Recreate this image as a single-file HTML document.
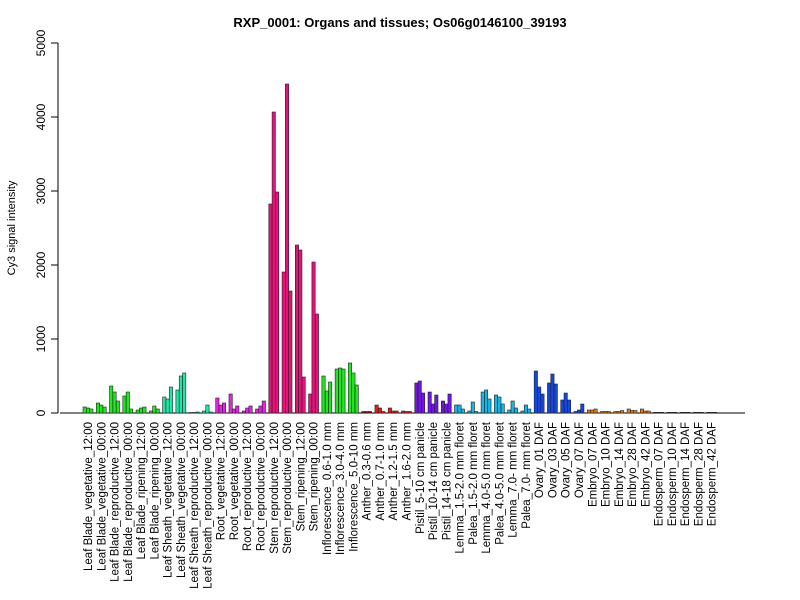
<!DOCTYPE html>
<html><head><meta charset="utf-8"><style>body{margin:0;background:#fff}svg{display:block;font-family:"Liberation Sans",Arial,sans-serif}</style></head>
<body>
<svg width="800" height="600" xmlns="http://www.w3.org/2000/svg">
<rect width="800" height="600" fill="#fff"/>
<text x="400" y="27" text-anchor="middle" font-size="13" font-weight="bold">RXP_0001: Organs and tissues; Os06g0146100_39193</text>
<line x1="58" y1="43" x2="58" y2="413" stroke="#000"/>
<g stroke="#000"><line x1="51" y1="413" x2="58" y2="413"/><line x1="51" y1="339" x2="58" y2="339"/><line x1="51" y1="265" x2="58" y2="265"/><line x1="51" y1="191" x2="58" y2="191"/><line x1="51" y1="117" x2="58" y2="117"/><line x1="51" y1="43" x2="58" y2="43"/></g>
<g font-size="12" text-anchor="middle">
<text transform="translate(45,413) rotate(-90)">0</text>
<text transform="translate(45,339) rotate(-90)">1000</text>
<text transform="translate(45,265) rotate(-90)">2000</text>
<text transform="translate(45,191) rotate(-90)">3000</text>
<text transform="translate(45,117) rotate(-90)">4000</text>
<text transform="translate(45,43) rotate(-90)">5000</text>
<text transform="translate(15,228) rotate(-90)" font-size="11">Cy3 signal intensity</text>
</g>
<line x1="60" y1="413" x2="745" y2="413" stroke="#000"/>
<g stroke="#222" stroke-width="0.6">
<g fill="#22e622">
<g transform="translate(83,0)"><rect x="0" y="407" width="3.32" height="6"/><rect x="3.32" y="408" width="3.32" height="5"/><rect x="6.64" y="409" width="3.32" height="4"/></g>
<g transform="translate(96.27,0)"><rect x="0" y="403" width="3.32" height="10"/><rect x="3.32" y="405" width="3.32" height="8"/><rect x="6.64" y="407" width="3.32" height="6"/></g>
<g transform="translate(109.54,0)"><rect x="0" y="386" width="3.32" height="27"/><rect x="3.32" y="392" width="3.32" height="21"/><rect x="6.64" y="401" width="3.32" height="12"/></g>
<g transform="translate(122.81,0)"><rect x="0" y="396" width="3.32" height="17"/><rect x="3.32" y="392" width="3.32" height="21"/><rect x="6.64" y="409" width="3.32" height="4"/></g>
<g transform="translate(136.08,0)"><rect x="0" y="410" width="3.32" height="3"/><rect x="3.32" y="408" width="3.32" height="5"/><rect x="6.64" y="407" width="3.32" height="6"/></g>
<g transform="translate(149.35,0)"><rect x="0" y="411" width="3.32" height="2"/><rect x="3.32" y="406" width="3.32" height="7"/><rect x="6.64" y="409" width="3.32" height="4"/></g>
</g>
<g fill="#22e6a8">
<g transform="translate(162.62,0)"><rect x="0" y="397" width="3.32" height="16"/><rect x="3.32" y="399" width="3.32" height="14"/><rect x="6.64" y="387" width="3.32" height="26"/></g>
<g transform="translate(175.89,0)"><rect x="0" y="390" width="3.32" height="23"/><rect x="3.32" y="376" width="3.32" height="37"/><rect x="6.64" y="373" width="3.32" height="40"/></g>
<g transform="translate(189.16,0)"><rect x="0" y="412.5" width="3.32" height="0.5"/><rect x="3.32" y="412.5" width="3.32" height="0.5"/><rect x="6.64" y="412" width="3.32" height="1"/></g>
<g transform="translate(202.43,0)"><rect x="0" y="411" width="3.32" height="2"/><rect x="3.32" y="405" width="3.32" height="8"/><rect x="6.64" y="412" width="3.32" height="1"/></g>
</g>
<g fill="#e622e6">
<g transform="translate(215.7,0)"><rect x="0" y="398" width="3.32" height="15"/><rect x="3.32" y="405" width="3.32" height="8"/><rect x="6.64" y="403" width="3.32" height="10"/></g>
<g transform="translate(228.97,0)"><rect x="0" y="394" width="3.32" height="19"/><rect x="3.32" y="409" width="3.32" height="4"/><rect x="6.64" y="406" width="3.32" height="7"/></g>
<g transform="translate(242.24,0)"><rect x="0" y="411" width="3.32" height="2"/><rect x="3.32" y="408" width="3.32" height="5"/><rect x="6.64" y="406" width="3.32" height="7"/></g>
<g transform="translate(255.51,0)"><rect x="0" y="409" width="3.32" height="4"/><rect x="3.32" y="406" width="3.32" height="7"/><rect x="6.64" y="401" width="3.32" height="12"/></g>
</g>
<g fill="#e6127a">
<g transform="translate(268.78,0)"><rect x="0" y="204" width="3.32" height="209"/><rect x="3.32" y="112" width="3.32" height="301"/><rect x="6.64" y="192" width="3.32" height="221"/></g>
<g transform="translate(282.05,0)"><rect x="0" y="272" width="3.32" height="141"/><rect x="3.32" y="84" width="3.32" height="329"/><rect x="6.64" y="291" width="3.32" height="122"/></g>
<g transform="translate(295.32,0)"><rect x="0" y="245" width="3.32" height="168"/><rect x="3.32" y="250" width="3.32" height="163"/><rect x="6.64" y="377" width="3.32" height="36"/></g>
<g transform="translate(308.59,0)"><rect x="0" y="394" width="3.32" height="19"/><rect x="3.32" y="262" width="3.32" height="151"/><rect x="6.64" y="314" width="3.32" height="99"/></g>
</g>
<g fill="#22e622">
<g transform="translate(321.86,0)"><rect x="0" y="376" width="3.32" height="37"/><rect x="3.32" y="391" width="3.32" height="22"/><rect x="6.64" y="382" width="3.32" height="31"/></g>
<g transform="translate(335.13,0)"><rect x="0" y="369" width="3.32" height="44"/><rect x="3.32" y="368" width="3.32" height="45"/><rect x="6.64" y="369" width="3.32" height="44"/></g>
<g transform="translate(348.4,0)"><rect x="0" y="363" width="3.32" height="50"/><rect x="3.32" y="373" width="3.32" height="40"/><rect x="6.64" y="385" width="3.32" height="28"/></g>
</g>
<g fill="#7a1a10">
<g transform="translate(361.67,0)"><rect x="0" y="411.5" width="3.32" height="1.5"/><rect x="3.32" y="411.5" width="3.32" height="1.5"/><rect x="6.64" y="411.5" width="3.32" height="1.5"/></g>
</g>
<g fill="#e61a14">
<g transform="translate(374.94,0)"><rect x="0" y="405" width="3.32" height="8"/><rect x="3.32" y="408" width="3.32" height="5"/><rect x="6.64" y="411.5" width="3.32" height="1.5"/></g>
<g transform="translate(388.21,0)"><rect x="0" y="408" width="3.32" height="5"/><rect x="3.32" y="411" width="3.32" height="2"/><rect x="6.64" y="411" width="3.32" height="2"/></g>
<g transform="translate(401.48,0)"><rect x="0" y="411" width="3.32" height="2"/><rect x="3.32" y="411.5" width="3.32" height="1.5"/><rect x="6.64" y="411.5" width="3.32" height="1.5"/></g>
</g>
<g fill="#7214e6">
<g transform="translate(414.75,0)"><rect x="0" y="383" width="3.32" height="30"/><rect x="3.32" y="381" width="3.32" height="32"/><rect x="6.64" y="393" width="3.32" height="20"/></g>
<g transform="translate(428.02,0)"><rect x="0" y="392" width="3.32" height="21"/><rect x="3.32" y="404" width="3.32" height="9"/><rect x="6.64" y="395" width="3.32" height="18"/></g>
<g transform="translate(441.29,0)"><rect x="0" y="401" width="3.32" height="12"/><rect x="3.32" y="404" width="3.32" height="9"/><rect x="6.64" y="394" width="3.32" height="19"/></g>
</g>
<g fill="#18b4e6">
<g transform="translate(454.56,0)"><rect x="0" y="405" width="3.32" height="8"/><rect x="3.32" y="405" width="3.32" height="8"/><rect x="6.64" y="409" width="3.32" height="4"/></g>
<g transform="translate(467.83,0)"><rect x="0" y="411" width="3.32" height="2"/><rect x="3.32" y="402" width="3.32" height="11"/><rect x="6.64" y="411.5" width="3.32" height="1.5"/></g>
<g transform="translate(481.1,0)"><rect x="0" y="392" width="3.32" height="21"/><rect x="3.32" y="390" width="3.32" height="23"/><rect x="6.64" y="399" width="3.32" height="14"/></g>
<g transform="translate(494.37,0)"><rect x="0" y="395" width="3.32" height="18"/><rect x="3.32" y="397" width="3.32" height="16"/><rect x="6.64" y="404" width="3.32" height="9"/></g>
<g transform="translate(507.64,0)"><rect x="0" y="410" width="3.32" height="3"/><rect x="3.32" y="401" width="3.32" height="12"/><rect x="6.64" y="408" width="3.32" height="5"/></g>
<g transform="translate(520.91,0)"><rect x="0" y="411" width="3.32" height="2"/><rect x="3.32" y="405" width="3.32" height="8"/><rect x="6.64" y="409" width="3.32" height="4"/></g>
</g>
<g fill="#1446e6">
<g transform="translate(534.18,0)"><rect x="0" y="371" width="3.32" height="42"/><rect x="3.32" y="387" width="3.32" height="26"/><rect x="6.64" y="394" width="3.32" height="19"/></g>
<g transform="translate(547.45,0)"><rect x="0" y="383" width="3.32" height="30"/><rect x="3.32" y="374" width="3.32" height="39"/><rect x="6.64" y="384" width="3.32" height="29"/></g>
<g transform="translate(560.72,0)"><rect x="0" y="400" width="3.32" height="13"/><rect x="3.32" y="393" width="3.32" height="20"/><rect x="6.64" y="400" width="3.32" height="13"/></g>
<g transform="translate(573.99,0)"><rect x="0" y="411.5" width="3.32" height="1.5"/><rect x="3.32" y="410" width="3.32" height="3"/><rect x="6.64" y="404" width="3.32" height="9"/></g>
</g>
<g fill="#e67a14">
<g transform="translate(587.26,0)"><rect x="0" y="410" width="3.32" height="3"/><rect x="3.32" y="410" width="3.32" height="3"/><rect x="6.64" y="409" width="3.32" height="4"/></g>
<g transform="translate(600.53,0)"><rect x="0" y="411.5" width="3.32" height="1.5"/><rect x="3.32" y="411.5" width="3.32" height="1.5"/><rect x="6.64" y="411.5" width="3.32" height="1.5"/></g>
<g transform="translate(613.8,0)"><rect x="0" y="411.5" width="3.32" height="1.5"/><rect x="3.32" y="411.5" width="3.32" height="1.5"/><rect x="6.64" y="410.5" width="3.32" height="2.5"/></g>
<g transform="translate(627.07,0)"><rect x="0" y="409" width="3.32" height="4"/><rect x="3.32" y="410.5" width="3.32" height="2.5"/><rect x="6.64" y="410.5" width="3.32" height="2.5"/></g>
<g transform="translate(640.34,0)"><rect x="0" y="409" width="3.32" height="4"/><rect x="3.32" y="411" width="3.32" height="2"/><rect x="6.64" y="411" width="3.32" height="2"/></g>
</g>
<g fill="#5a3010">
<g transform="translate(653.61,0)"><rect x="0" y="412.3" width="9.96" height="0.7"/></g>
<g transform="translate(666.88,0)"><rect x="0" y="412.3" width="9.96" height="0.7"/></g>
<g transform="translate(680.15,0)"><rect x="0" y="412.3" width="9.96" height="0.7"/></g>
<g transform="translate(693.42,0)"><rect x="0" y="412.3" width="9.96" height="0.7"/></g>
<g transform="translate(706.69,0)"><rect x="0" y="412.3" width="9.96" height="0.7"/></g>
</g>
</g>
<g font-size="11.5" text-anchor="end">
<text transform="translate(92,422) rotate(-90)">Leaf Blade_vegetative_12:00</text>
<text transform="translate(105.27,422) rotate(-90)">Leaf Blade_vegetative_00:00</text>
<text transform="translate(118.54,422) rotate(-90)">Leaf Blade_reproductive_12:00</text>
<text transform="translate(131.81,422) rotate(-90)">Leaf Blade_reproductive_00:00</text>
<text transform="translate(145.08,422) rotate(-90)">Leaf Blade_ripening_12:00</text>
<text transform="translate(158.35,422) rotate(-90)">Leaf Blade_ripening_00:00</text>
<text transform="translate(171.62,422) rotate(-90)">Leaf Sheath_vegetative_12:00</text>
<text transform="translate(184.89,422) rotate(-90)">Leaf Sheath_vegetative_00:00</text>
<text transform="translate(198.16,422) rotate(-90)">Leaf Sheath_reproductive_12:00</text>
<text transform="translate(211.43,422) rotate(-90)">Leaf Sheath_reproductive_00:00</text>
<text transform="translate(224.7,422) rotate(-90)">Root_vegetative_12:00</text>
<text transform="translate(237.97,422) rotate(-90)">Root_vegetative_00:00</text>
<text transform="translate(251.24,422) rotate(-90)">Root_reproductive_12:00</text>
<text transform="translate(264.51,422) rotate(-90)">Root_reproductive_00:00</text>
<text transform="translate(277.78,422) rotate(-90)">Stem_reproductive_12:00</text>
<text transform="translate(291.05,422) rotate(-90)">Stem_reproductive_00:00</text>
<text transform="translate(304.32,422) rotate(-90)">Stem_ripening_12:00</text>
<text transform="translate(317.59,422) rotate(-90)">Stem_ripening_00:00</text>
<text transform="translate(330.86,422) rotate(-90)">Inflorescence_0.6-1.0 mm</text>
<text transform="translate(344.13,422) rotate(-90)">Inflorescence_3.0-4.0 mm</text>
<text transform="translate(357.4,422) rotate(-90)">Inflorescence_5.0-10 mm</text>
<text transform="translate(370.67,422) rotate(-90)">Anther_0.3-0.6 mm</text>
<text transform="translate(383.94,422) rotate(-90)">Anther_0.7-1.0 mm</text>
<text transform="translate(397.21,422) rotate(-90)">Anther_1.2-1.5 mm</text>
<text transform="translate(410.48,422) rotate(-90)">Anther_1.6-2.0 mm</text>
<text transform="translate(423.75,422) rotate(-90)">Pistil_5-10 cm panicle</text>
<text transform="translate(437.02,422) rotate(-90)">Pistil_10-14 cm panicle</text>
<text transform="translate(450.29,422) rotate(-90)">Pistil_14-18 cm panicle</text>
<text transform="translate(463.56,422) rotate(-90)">Lemma_1.5-2.0 mm floret</text>
<text transform="translate(476.83,422) rotate(-90)">Palea_1.5-2.0 mm floret</text>
<text transform="translate(490.1,422) rotate(-90)">Lemma_4.0-5.0 mm floret</text>
<text transform="translate(503.37,422) rotate(-90)">Palea_4.0-5.0 mm floret</text>
<text transform="translate(516.64,422) rotate(-90)">Lemma_7.0- mm floret</text>
<text transform="translate(529.91,422) rotate(-90)">Palea_7.0- mm floret</text>
<text transform="translate(543.18,422) rotate(-90)">Ovary_01 DAF</text>
<text transform="translate(556.45,422) rotate(-90)">Ovary_03 DAF</text>
<text transform="translate(569.72,422) rotate(-90)">Ovary_05 DAF</text>
<text transform="translate(582.99,422) rotate(-90)">Ovary_07 DAF</text>
<text transform="translate(596.26,422) rotate(-90)">Embryo_07 DAF</text>
<text transform="translate(609.53,422) rotate(-90)">Embryo_10 DAF</text>
<text transform="translate(622.8,422) rotate(-90)">Embryo_14 DAF</text>
<text transform="translate(636.07,422) rotate(-90)">Embryo_28 DAF</text>
<text transform="translate(649.34,422) rotate(-90)">Embryo_42 DAF</text>
<text transform="translate(662.61,422) rotate(-90)">Endosperm_07 DAF</text>
<text transform="translate(675.88,422) rotate(-90)">Endosperm_10 DAF</text>
<text transform="translate(689.15,422) rotate(-90)">Endosperm_14 DAF</text>
<text transform="translate(702.42,422) rotate(-90)">Endosperm_28 DAF</text>
<text transform="translate(715.69,422) rotate(-90)">Endosperm_42 DAF</text>
</g>
</svg>
</body></html>
